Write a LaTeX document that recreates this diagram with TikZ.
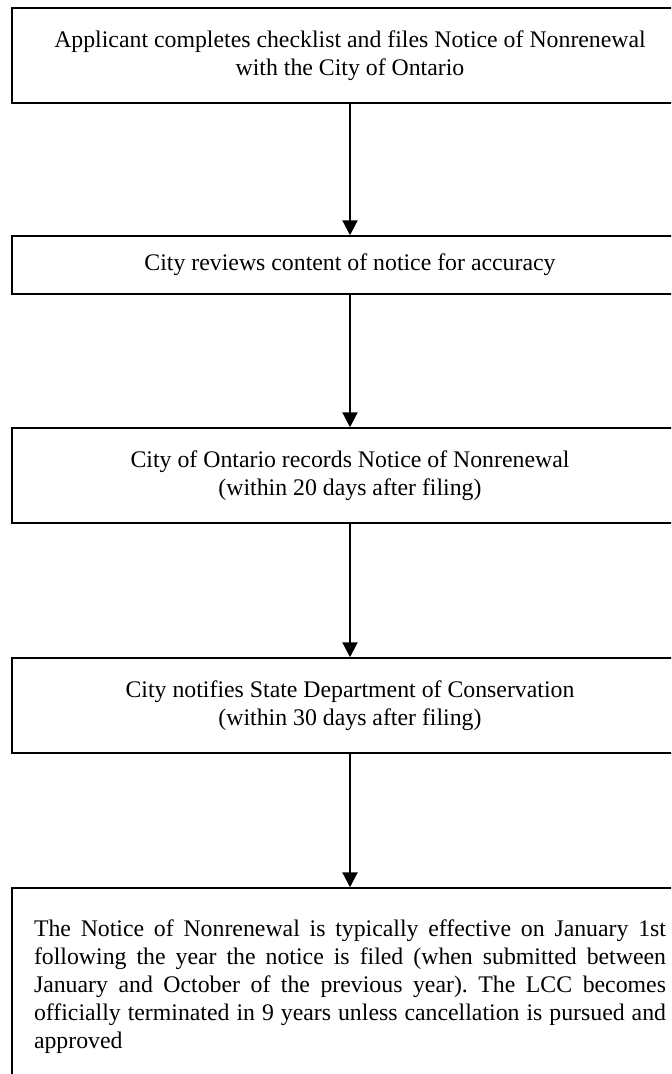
\documentclass[tikz,border=0pt]{standalone}
\usepackage{fontspec}
\setmainfont{Liberation Serif}
\usetikzlibrary{arrows.meta}
\frenchspacing
\begin{document}
\begin{tikzpicture}[x=0.75pt,y=-0.75pt,
  flowbox/.style={draw=black, line width=1.1pt, minimum width=507pt, inner sep=0pt,
    font=\fontsize{17.85pt}{21pt}\selectfont},
  centerbox/.style={flowbox, align=center},
  flowarrow/.style={line width=1.6pt, -{Triangle[length=11.25pt,width=11.25pt]}}]
\useasboundingbox (0,0) rectangle (671,1074);
\clip (0,0) rectangle (671,1074);
\node[centerbox, minimum height=71.25pt] (b1) at (350,55.5)
  {Applicant completes checklist and files Notice of Nonrenewal\\with the City of Ontario};
\node[centerbox, minimum height=43.5pt] (b2) at (350,265)
  {City reviews content of notice for accuracy};
\node[centerbox, minimum height=71.25pt] (b3) at (350,475.5)
  {City of Ontario records Notice of Nonrenewal\\(within 20 days after filing)};
\node[centerbox, minimum height=71.25pt] (b4) at (350,705.5)
  {City notifies State Department of Conservation\\(within 30 days after filing)};
\node[flowbox, minimum height=147.75pt, text width=474pt, align=justify] (b5) at (350,986.5)
  {\frenchspacing The Notice of Nonrenewal is typically effective on January 1st\linebreak
   following the year the notice is filed (when submitted between\linebreak
   January and October of the previous year). The LCC becomes\linebreak
   officially terminated in 9 years unless cancellation is pursued and\linebreak
   approved};
\draw[flowarrow] (b1) -- (b2);
\draw[flowarrow] (b2) -- (b3);
\draw[flowarrow] (b3) -- (b4);
\draw[flowarrow] (b4) -- (b5);
\end{tikzpicture}
\end{document}
